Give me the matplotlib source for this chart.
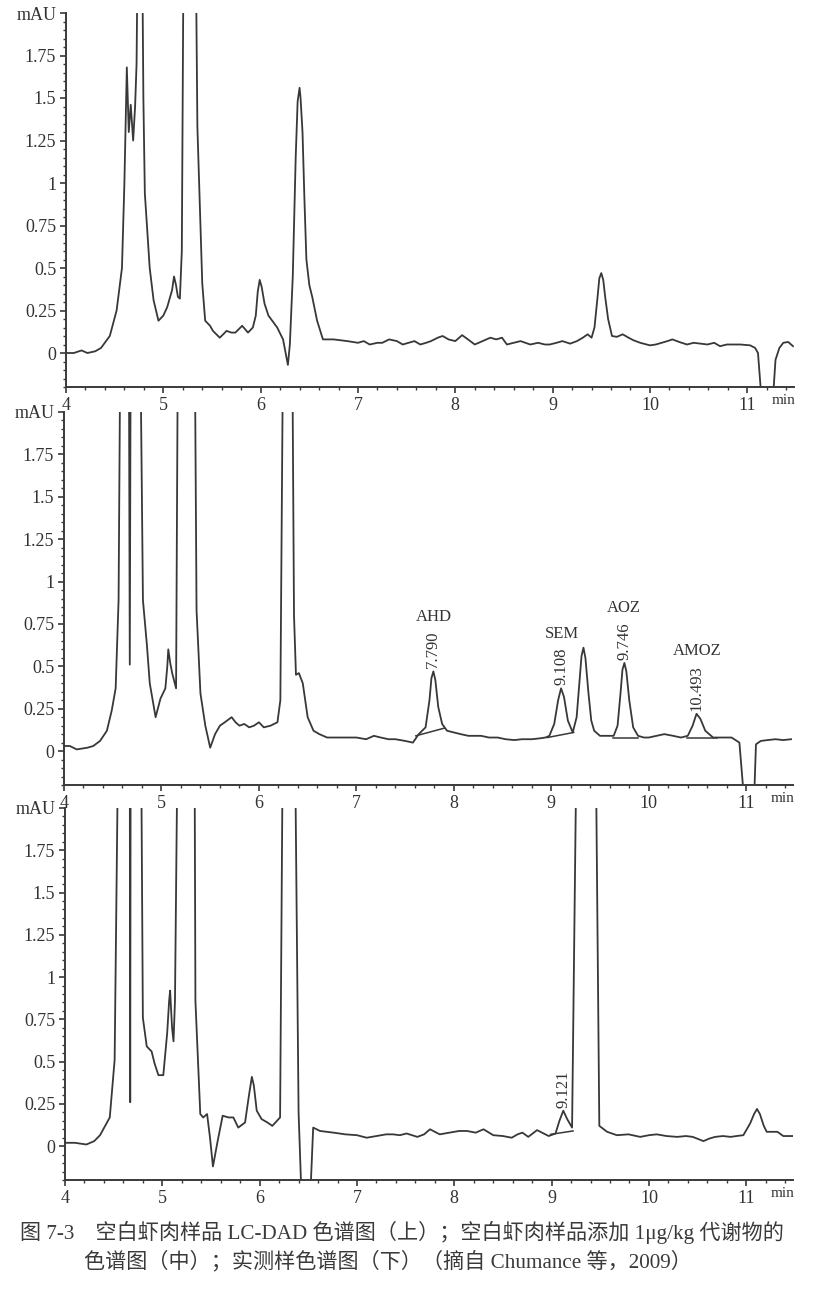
import matplotlib
matplotlib.use("Agg")
import matplotlib.pyplot as plt
from matplotlib.ticker import MultipleLocator, FixedLocator

# ---------------- data ----------------
# Top: blank shrimp sample
t_top = [4.00, 4.08, 4.16, 4.22, 4.30, 4.36, 4.45, 4.52, 4.575, 4.60, 4.625, 4.645, 4.665,
         4.69, 4.71, 4.725, 4.74, 4.78, 4.795, 4.81, 4.86, 4.90, 4.95, 5.00, 5.04, 5.09,
         5.11, 5.13, 5.15, 5.17, 5.19, 5.21, 5.33, 5.35, 5.40, 5.43, 5.48, 5.51, 5.58, 5.65,
         5.70, 5.74, 5.81, 5.87, 5.92, 5.95, 5.97, 5.99, 6.01, 6.04, 6.08, 6.17, 6.23, 6.28,
         6.30, 6.33, 6.36, 6.38, 6.40, 6.41, 6.43, 6.45, 6.47, 6.50, 6.53, 6.58, 6.64, 6.75,
         6.89, 7.00, 7.06, 7.12, 7.20, 7.25, 7.32, 7.40, 7.46, 7.52, 7.58, 7.64, 7.70, 7.75,
         7.82, 7.87, 7.93, 8.00, 8.07, 8.13, 8.20, 8.28, 8.36, 8.42, 8.48, 8.53, 8.60, 8.67,
         8.72, 8.77, 8.85, 8.92, 8.97, 9.04, 9.10, 9.18, 9.25, 9.31, 9.36, 9.40, 9.43, 9.46,
         9.48, 9.50, 9.52, 9.54, 9.57, 9.61, 9.66, 9.72, 9.78, 9.83, 9.90, 10.00, 10.06,
         10.12, 10.18, 10.23, 10.30, 10.38, 10.45, 10.52, 10.59, 10.66, 10.72, 10.79, 10.86,
         10.93, 11.03, 11.08, 11.11, 11.15, 11.26, 11.29, 11.33, 11.37, 11.42, 11.47]
y_top = [0.00, 0.00, 0.015, 0.00, 0.01, 0.03, 0.10, 0.25, 0.50, 1.00, 1.68, 1.30, 1.46,
         1.25, 1.45, 1.70, 2.60, 2.60, 1.50, 0.94, 0.50, 0.31, 0.19, 0.22, 0.27, 0.37,
         0.45, 0.40, 0.33, 0.32, 0.60, 2.60, 2.60, 1.33, 0.41, 0.19, 0.16, 0.13, 0.09, 0.13,
         0.12, 0.12, 0.16, 0.12, 0.15, 0.22, 0.36, 0.43, 0.39, 0.29, 0.22, 0.15, 0.08, -0.07,
         0.05, 0.45, 1.15, 1.48, 1.56, 1.50, 1.30, 0.90, 0.55, 0.40, 0.33, 0.19, 0.08, 0.08,
         0.07, 0.06, 0.07, 0.05, 0.06, 0.06, 0.08, 0.07, 0.05, 0.06, 0.07, 0.05, 0.06, 0.07,
         0.09, 0.10, 0.08, 0.07, 0.105, 0.08, 0.05, 0.07, 0.09, 0.08, 0.09, 0.05, 0.06, 0.07,
         0.06, 0.05, 0.06, 0.05, 0.05, 0.06, 0.07, 0.055, 0.07, 0.09, 0.11, 0.09, 0.15, 0.32,
         0.44, 0.47, 0.43, 0.33, 0.20, 0.10, 0.095, 0.11, 0.09, 0.075, 0.06, 0.045, 0.05,
         0.06, 0.07, 0.08, 0.065, 0.05, 0.06, 0.055, 0.05, 0.06, 0.04, 0.05, 0.05,
         0.05, 0.045, 0.03, 0.00, -0.30, -0.30, -0.04, 0.03, 0.06, 0.065, 0.04]

# Middle: blank shrimp spiked with 1 ug/kg metabolites
t_mid = [4.00, 4.06, 4.13, 4.24, 4.30, 4.37, 4.44, 4.49, 4.53, 4.56, 4.58, 4.665, 4.675,
         4.685, 4.78, 4.81, 4.85, 4.88, 4.94, 4.99, 5.04, 5.06, 5.07, 5.09, 5.11, 5.15, 5.17,
         5.34, 5.36, 5.40, 5.45, 5.50, 5.55, 5.60, 5.65, 5.72, 5.76, 5.80, 5.85, 5.90, 5.95,
         6.00, 6.05, 6.12, 6.19, 6.22, 6.25, 6.34, 6.36, 6.38, 6.41, 6.45, 6.50, 6.56, 6.62,
         6.70, 6.80, 6.90, 7.00, 7.10, 7.18, 7.25, 7.33, 7.40, 7.50, 7.58, 7.64, 7.71, 7.75,
         7.77, 7.79, 7.81, 7.84, 7.88, 7.93, 8.00, 8.07, 8.15, 8.28, 8.36, 8.45, 8.53, 8.62,
         8.70, 8.80, 8.88, 8.94, 8.98, 9.03, 9.07, 9.10, 9.13, 9.17, 9.22, 9.26, 9.29, 9.31,
         9.33, 9.35, 9.38, 9.41, 9.44, 9.50, 9.58, 9.64, 9.68, 9.71, 9.73, 9.75, 9.77, 9.80,
         9.84, 9.89, 9.95, 10.00, 10.08, 10.16, 10.25, 10.33, 10.40, 10.45, 10.49, 10.53,
         10.58, 10.66, 10.75, 10.85, 10.93, 10.98, 11.08, 11.10, 11.15, 11.22, 11.30, 11.38,
         11.46]
y_mid = [0.03, 0.03, 0.01, 0.02, 0.03, 0.06, 0.12, 0.24, 0.37, 0.89, 2.60, 2.60, 0.51,
         2.60, 2.60, 0.89, 0.63, 0.40, 0.20, 0.31, 0.37, 0.50, 0.60, 0.52, 0.46, 0.37, 2.60,
         2.60, 0.83, 0.34, 0.15, 0.02, 0.10, 0.15, 0.17, 0.20, 0.17, 0.15, 0.16, 0.14, 0.15,
         0.17, 0.14, 0.15, 0.17, 0.30, 2.60, 2.60, 0.80, 0.45, 0.46, 0.40, 0.20, 0.12, 0.10,
         0.08, 0.08, 0.08, 0.08, 0.07, 0.09, 0.08, 0.07, 0.07, 0.06, 0.05, 0.10, 0.14, 0.30,
         0.43, 0.47, 0.42, 0.26, 0.16, 0.12, 0.11, 0.10, 0.09, 0.09, 0.08, 0.08, 0.07, 0.065,
         0.07, 0.07, 0.075, 0.08, 0.09, 0.16, 0.30, 0.37, 0.32, 0.18, 0.11, 0.20, 0.42, 0.56,
         0.61, 0.55, 0.35, 0.18, 0.12, 0.09, 0.09, 0.09, 0.15, 0.34, 0.48, 0.52, 0.47, 0.30,
         0.14, 0.09, 0.08, 0.08, 0.09, 0.10, 0.09, 0.08, 0.09, 0.15, 0.22, 0.19,
         0.12, 0.08, 0.08, 0.08, 0.05, -0.30, -0.30, 0.04, 0.06, 0.065, 0.07, 0.065,
         0.07]

# Bottom: real sample
t_bot = [4.00, 4.10, 4.22, 4.30, 4.36, 4.46, 4.51, 4.55, 4.665, 4.67, 4.675, 4.78, 4.80,
         4.84, 4.89, 4.92, 4.96, 5.01, 5.05, 5.07, 5.08, 5.10, 5.115, 5.13, 5.16, 5.33, 5.34,
         5.39, 5.42, 5.46, 5.49, 5.52, 5.57, 5.62, 5.68, 5.73, 5.78, 5.85, 5.89, 5.92, 5.94,
         5.97, 6.02, 6.08, 6.13, 6.21, 6.24, 6.36, 6.40, 6.43, 6.52, 6.55, 6.62, 6.76, 6.88,
         7.00, 7.10, 7.20, 7.30, 7.37, 7.44, 7.51, 7.62, 7.69, 7.75, 7.85, 7.95, 8.05, 8.13,
         8.22, 8.30, 8.40, 8.50, 8.59, 8.65, 8.70, 8.76, 8.85, 8.97, 9.04, 9.08, 9.12, 9.16,
         9.21, 9.26, 9.45, 9.49, 9.57, 9.67, 9.79, 9.91, 10.00, 10.08, 10.18, 10.29, 10.38,
         10.45, 10.56, 10.62, 10.68, 10.76, 10.84, 10.90, 10.97, 11.04, 11.08, 11.11, 11.14,
         11.18, 11.21, 11.27, 11.32, 11.38, 11.48]
y_bot = [0.02, 0.02, 0.01, 0.03, 0.065, 0.17, 0.51, 2.60, 2.60, 0.26, 2.60, 2.60, 0.76,
         0.59, 0.56, 0.49, 0.42, 0.42, 0.67, 0.86, 0.92, 0.70, 0.62, 0.86, 2.60, 2.60, 0.86,
         0.19, 0.17, 0.19, 0.05, -0.12, 0.035, 0.18, 0.17, 0.17, 0.11, 0.14, 0.30, 0.41, 0.36,
         0.21, 0.16, 0.14, 0.12, 0.17, 2.60, 2.60, 0.20, -0.30, -0.30, 0.11, 0.09, 0.08, 0.07,
         0.065, 0.05, 0.06, 0.07, 0.07, 0.065, 0.075, 0.055, 0.07, 0.10, 0.07, 0.08, 0.09,
         0.09, 0.08, 0.10, 0.065, 0.06, 0.05, 0.07, 0.08, 0.055, 0.095, 0.06, 0.075, 0.15,
         0.21, 0.16, 0.11, 2.60, 2.60, 0.12, 0.085, 0.065, 0.07, 0.055, 0.065, 0.07, 0.06,
         0.055, 0.06, 0.055, 0.03, 0.045, 0.055, 0.06, 0.055, 0.06, 0.065, 0.135, 0.19, 0.22,
         0.19, 0.12, 0.085, 0.085, 0.085, 0.06, 0.06]

# Labelled peaks in the middle chromatogram
mid_names = ["AHD", "SEM", "AOZ", "AMOZ"]
mid_rt = [7.790, 9.108, 9.746, 10.493]
mid_apex = [0.47, 0.37, 0.52, 0.22]
mid_base_x0 = [7.61, 8.96, 9.63, 10.39]
mid_base_y0 = [0.09, 0.08, 0.08, 0.08]
mid_base_x1 = [7.90, 9.23, 9.89, 10.70]
mid_base_y1 = [0.135, 0.11, 0.08, 0.08]

# Labelled peak in the bottom chromatogram
bot_rt = [9.121]
bot_apex = [0.21]
bot_base_x0 = [8.99]
bot_base_y0 = [0.07]
bot_base_x1 = [9.22]
bot_base_y1 = [0.09]

x_ticks = [4, 5, 6, 7, 8, 9, 10, 11]
y_ticks = [0, 0.25, 0.5, 0.75, 1.0, 1.25, 1.5, 1.75, 2.0]
y_ticklabels = ["0", "0.25", "0.5", "0.75", "1", "1.25", "1.5", "1.75", "mAU"]

caption_1 = "图 7-3　空白虾肉样品 LC-DAD 色谱图（上）；空白虾肉样品添加 1μg/kg 代谢物的"
caption_2 = "色谱图（中）；实测样色谱图（下）（摘自 Chumance 等，2009）"

# ---------------- figure ----------------
W, H = 820, 1290
fig = plt.figure(figsize=(W / 100, H / 100), dpi=100)
fig.patch.set_facecolor("white")

SERIF = ["Liberation Serif", "DejaVu Serif"]
LINE = "#383838"
AX = "#3a3a3a"
TXT = "#333333"


def px_axes(left, top, right, bottom):
    return fig.add_axes([left / W, 1 - bottom / H, (right - left) / W, (bottom - top) / H])


def style(ax):
    ax.set_xlim(4, 11.48)
    ax.set_ylim(-0.2, 2.0)
    for s in ["top", "right"]:
        ax.spines[s].set_visible(False)
    for s in ["left", "bottom"]:
        ax.spines[s].set_color(AX)
        ax.spines[s].set_linewidth(1.4)
    ax.xaxis.set_major_locator(FixedLocator(x_ticks))
    ax.xaxis.set_minor_locator(MultipleLocator(0.2))
    ax.yaxis.set_major_locator(FixedLocator(y_ticks))
    ax.yaxis.set_minor_locator(MultipleLocator(0.05))
    ax.set_xticklabels([str(v) for v in x_ticks], fontfamily=SERIF, fontsize=13, color=TXT)
    ax.set_yticklabels(y_ticklabels, fontfamily=SERIF, fontsize=13, color=TXT)
    ax.tick_params(axis="both", which="major", direction="out", length=4, width=1.2, color=AX, pad=3)
    ax.tick_params(axis="both", which="minor", direction="out", length=2, width=1.0, color=AX)
    ax.annotate("min", xy=(11.37, -0.2), xycoords="data", xytext=(0, -7),
                textcoords="offset pixels", ha="center", va="top",
                fontfamily=SERIF, fontsize=11, color=TXT)


ax1 = px_axes(66, 13, 794, 387)
ax2 = px_axes(64, 412, 793, 785)
ax3 = px_axes(65, 808, 793, 1180)

for ax, t, y in [(ax1, t_top, y_top), (ax2, t_mid, y_mid), (ax3, t_bot, y_bot)]:
    style(ax)
    ax.plot(t, y, color=LINE, lw=1.3, solid_joinstyle="round")


def label_peaks(ax, rts, apexes, x0, y0, x1, y1, names=None):
    for i, rt in enumerate(rts):
        ax.plot([x0[i], x1[i]], [y0[i], y1[i]], color=LINE, lw=1.1)
        num = ax.annotate(f"{rt:.3f}", xy=(rt, apexes[i]), xycoords="data",
                          xytext=(0, 3), textcoords="offset pixels", rotation=90,
                          ha="center", va="bottom", fontfamily=SERIF, fontsize=12,
                          color=TXT)
        if names is not None:
            ax.annotate(names[i], xy=(0.5, 1.0), xycoords=num, xytext=(0, 6),
                        textcoords="offset pixels", ha="center", va="bottom",
                        fontfamily=SERIF, fontsize=12, color=TXT)


label_peaks(ax2, mid_rt, mid_apex, mid_base_x0, mid_base_y0, mid_base_x1, mid_base_y1, mid_names)
label_peaks(ax3, bot_rt, bot_apex, bot_base_x0, bot_base_y0, bot_base_x1, bot_base_y1)

CAP_FONT = ["Liberation Serif", "Noto Sans CJK SC"]
fig.text(20 / W, 1 - 1232 / H, caption_1, ha="left", va="center",
         fontfamily=CAP_FONT, fontsize=15.2, color="#3a3a3a")
fig.text(84 / W, 1 - 1262 / H, caption_2, ha="left", va="center",
         fontfamily=CAP_FONT, fontsize=15.2, color="#3a3a3a")

fig.savefig("out.png", dpi=100, facecolor="white")
